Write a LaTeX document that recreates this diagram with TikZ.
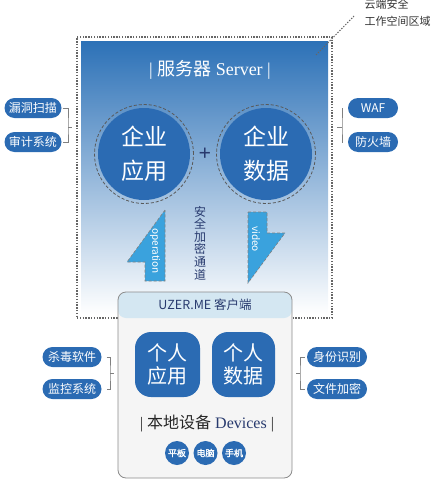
\documentclass[tikz,border=0pt]{standalone}
\usepackage{fontspec}
\setmainfont{Liberation Serif}
\newfontfamily\cjk[AutoFakeBold=2]{Noto Sans CJK SC}
\usetikzlibrary{positioning, calc}
\definecolor{srvblue}{HTML}{2B6BB3}
\definecolor{srvtop}{HTML}{2C71B7}
\definecolor{srvmid}{HTML}{B3C0E4}
\definecolor{flowblue}{HTML}{3AA2DD}
\definecolor{navy}{HTML}{283A6E}
\definecolor{hdrblue}{HTML}{D4E7F2}
\definecolor{bodygray}{HTML}{F5F5F5}
\tikzset{
  pillbox/.style={rectangle, fill=srvblue, text=white, rounded corners=10pt, minimum height=20pt, minimum width=57pt, inner sep=0pt, font=\cjk\fontsize{12}{14}\selectfont},
  entcircle/.style={circle, fill=srvblue, text=white, minimum size=92pt, inner sep=0pt, align=center, font=\cjk\fontsize{23}{34}\selectfont},
  ringdash/.style={circle, draw=black!65, densely dashed, line width=0.8pt, minimum size=99pt, inner sep=0pt},
  persbox/.style={rectangle, fill=srvblue, text=white, rounded corners=16pt, minimum height=65pt, inner sep=0pt, align=center, font=\cjk\fontsize{20}{23}\selectfont},
  devdot/.style={circle, fill=srvblue, text=white, minimum size=24pt, inner sep=0pt, font=\cjk\bfseries\fontsize{9}{10}\selectfont},
  brk/.style={draw=black!50, line width=0.7pt},
  framedot/.style={draw=black!60, line width=1.2pt, dash pattern=on 1.4pt off 1.4pt},
  flowarrow/.style={fill=flowblue, draw=black!50, densely dashed, line width=0.6pt},
  flowtext/.style={text=white, font=\cjk\fontsize{10}{12}\selectfont, rotate=-90},
  srvpanel/.style={rectangle, top color=srvtop, middle color=srvmid, bottom color=white, minimum width=247pt, minimum height=273pt, inner sep=0pt},
  clientbox/.style={rectangle, draw=black!45, line width=0.8pt, fill=bodygray, rounded corners=8pt, minimum width=174pt, minimum height=186pt,
    path picture={\fill[hdrblue] (path picture bounding box.north west) rectangle ([yshift=-26pt]path picture bounding box.north east);}},
}

\begin{document}
\begin{tikzpicture}[x=1pt, y=-1pt]
  \useasboundingbox (0,0) rectangle (432,479);

  % Cloud workspace
  \node[framedot, minimum width=255pt, minimum height=281pt, inner sep=0pt] (cloud) at (204.5,177.5) {};
  \node[srvpanel] (srvbg) at (204.5,177.5) {};
  \node[text=white, font=\fontsize{18}{20}\selectfont] (srvtitle) at (210,70) {| {\cjk 服务器} Server |};

  \node[anchor=west, align=left, text=black!80, font=\cjk\fontsize{11}{17}\selectfont] (cloudlbl) at (361,13) {云端安全\\工作空间区域};
  \coordinate (cloudin) at (316,55);
  \coordinate (cloudout) at (355,15);
  \draw[framedot, line width=1pt] (cloudin) -- (cloudout);

  % Enterprise circles
  \node[entcircle] (entapp) at (144,154) {企业\\应用};
  \node[ringdash] (entappring) at (entapp) {};
  \node[entcircle] (entdata) at (266,154) {企业\\数据};
  \node[ringdash] (entdataring) at (entdata) {};
  \node[text=navy, font=\bfseries\fontsize{22}{22}\selectfont] (plus) at (205,154) {+};

  % Secure channel
  \draw[flowarrow] (165,210) -- (127,262) -- (145,262) -- (145,281) -- (165,281) -- cycle;
  \node[flowtext] (optext) at (155,251) {operation};
  \draw[flowarrow] (248,212) -- (267,212) -- (267,233) -- (285,233) -- (248,283) -- cycle;
  \node[flowtext] (vidtext) at (256,239) {video};
  \node[text=navy, align=center, font=\cjk\fontsize{12}{12.6}\selectfont] (chan) at (200,243) {安\\全\\加\\密\\通\\道};

  % Server side tools
  \node[pillbox] (leak) at (33,108) {漏洞扫描};
  \node[pillbox] (audit) at (33,142) {审计系统};
  \coordinate (lbrk) at (68,127);
  \coordinate (lbrktip) at (72,127);
  \draw[brk] ([xshift=1pt]leak.east) -| (lbrk) |- ([xshift=1pt]audit.east);
  \draw[brk] (lbrk) -- (lbrktip);

  \node[pillbox, minimum width=50pt] (waf) at (373,108) {WAF};
  \node[pillbox, minimum width=50pt] (fire) at (373,142) {防火墙};
  \coordinate (rbrk) at (342,127);
  \coordinate (rbrktip) at (337,127);
  \draw[brk] ([xshift=-5pt]waf.west) -| (rbrk) |- ([xshift=-5pt]fire.west);
  \draw[brk] (rbrk) -- (rbrktip);

  % Client
  \node[clientbox] (client) at (205,385) {};
  \node[text=navy, font=\cjk\fontsize{12.5}{14}\selectfont] (clienthd) at (205,305) {UZER.ME 客户端};
  \node[persbox, minimum width=65pt] (perapp) at (167.5,364.5) {个人\\应用};
  \node[persbox, minimum width=63pt] (perdata) at (243.5,364.5) {个人\\数据};
  \node[text=black!85, font=\fontsize{16}{18}\selectfont] (devtitle) at (207,423) {| {\cjk 本地设备} \textcolor{navy}{Devices} |};
  \node[devdot] (pad) at (177,453) {平板};
  \node[devdot] (pc) at (205.5,453) {电脑};
  \node[devdot] (phone) at (234,453) {手机};

  % Client side tools
  \node[pillbox, minimum width=59pt] (virus) at (72,357) {杀毒软件};
  \node[pillbox, minimum width=59pt] (watch) at (72,389) {监控系统};
  \coordinate (lcbrk) at (110,373);
  \coordinate (lcbrktip) at (114,373);
  \draw[brk] ([xshift=5pt]virus.east) -| (lcbrk) |- ([xshift=5pt]watch.east);
  \draw[brk] (lcbrk) -- (lcbrktip);

  \node[pillbox, minimum width=60pt] (ident) at (337,357) {身份识别};
  \node[pillbox, minimum width=60pt] (crypt) at (337,389) {文件加密};
  \coordinate (rcbrk) at (300,373);
  \coordinate (rcbrktip) at (296,373);
  \draw[brk] ([xshift=-2pt]ident.west) -| (rcbrk) |- ([xshift=-2pt]crypt.west);
  \draw[brk] (rcbrk) -- (rcbrktip);
\end{tikzpicture}
\end{document}
